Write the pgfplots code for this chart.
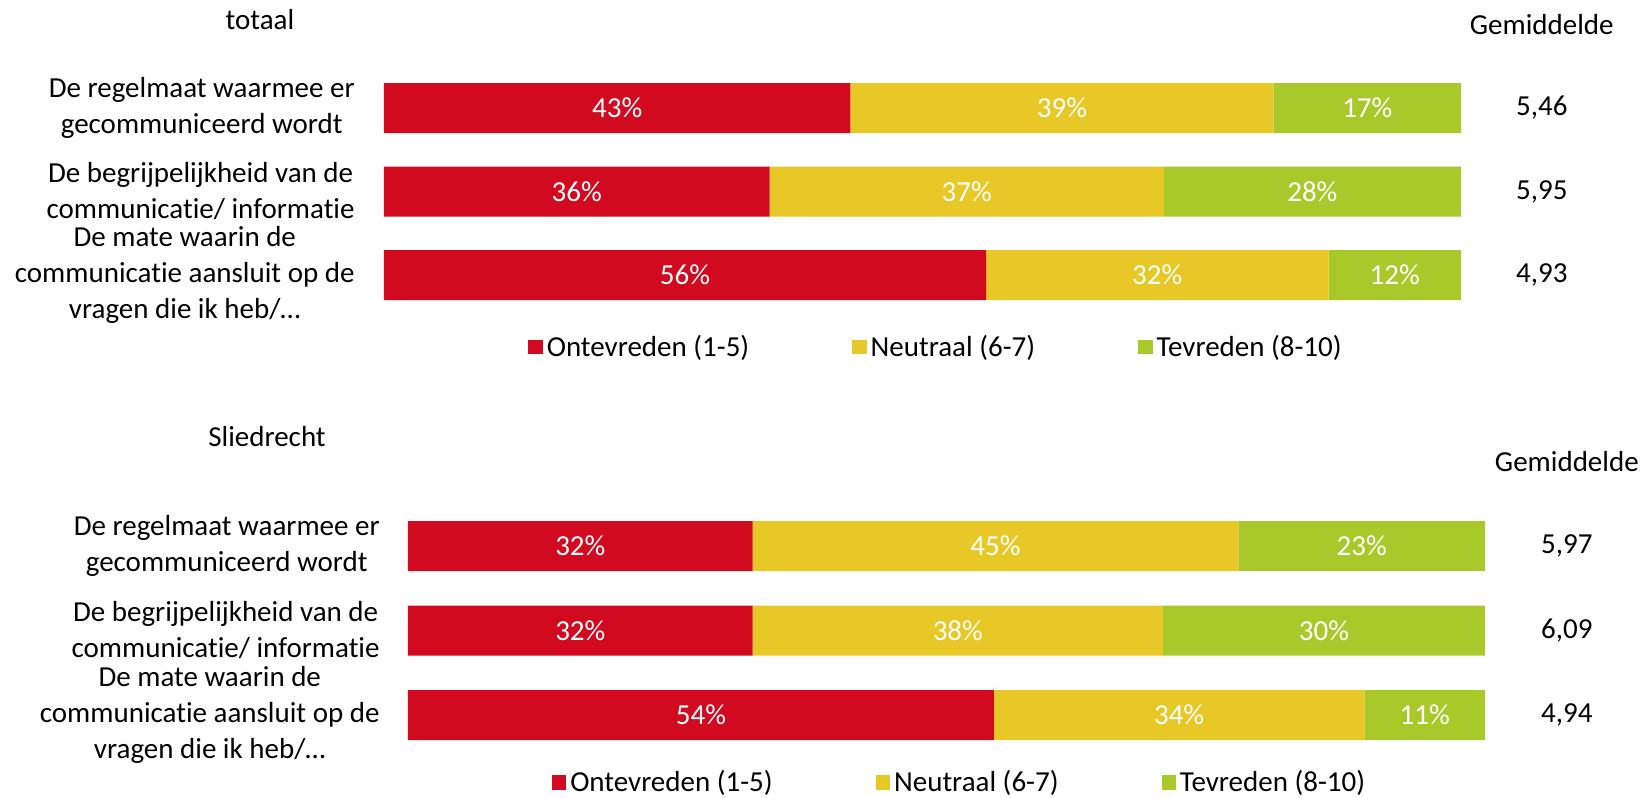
\documentclass[border=0pt]{standalone}
\usepackage{pgfplots}
\pgfplotsset{compat=1.18}
\usepackage{fontspec}
\setmainfont{Carlito}[Ligatures={NoCommon}]
\definecolor{cred}{HTML}{D10A1F}
\definecolor{cyel}{HTML}{E8C826}
\definecolor{cgrn}{HTML}{A9C92B}
\newcommand{\chartfont}{\fontsize{14.5}{18}\selectfont}
\pgfplotsset{
  barax/.style={
    scale only axis, anchor=north west,
    width=538.5pt,
    xmin=0, xmax=100, ymin=-0.5, ymax=2.5, y dir=reverse,
    xbar stacked, bar width=25pt,
    axis line style={draw=none}, tick style={draw=none}, major tick length=0pt,
    xtick=\empty, ytick={0,1,2},
    yticklabels={{De regelmaat waarmee er\\gecommuniceerd wordt},{De begrijpelijkheid van de\\communicatie/ informatie},{De mate waarin de\\communicatie aansluit op de\\vragen die ik heb/…}},
    yticklabel style={align=center, inner sep=0pt, font=\chartfont},
    legend columns=3,
    legend style={draw=none, fill=none, font=\chartfont, anchor=center,
      /tikz/every even column/.append style={column sep=49.5pt}},
    legend image code/.code={\fill[#1] (0pt,-3.6pt) rectangle (7.2pt,3.6pt);},
  },
  txtax/.style={scale only axis, anchor=north west, width=538.5pt,
    xmin=0, xmax=100, ymin=-0.5, ymax=2.5, y dir=reverse, hide axis, clip=false},
  pctlab/.style={draw=none, mark=none, point meta=explicit,
    nodes near coords={\pgfmathprintnumber[fixed,precision=0,assume math mode=true]{\pgfplotspointmeta}\%},
    every node near coord/.append style={anchor=center, text=white, font=\chartfont}},
  avglab/.style={draw=none, mark=none, point meta=explicit,
    nodes near coords={\pgfmathprintnumber[fixed,fixed zerofill,precision=2,use comma,assume math mode=true]{\pgfplotspointmeta}},
    every node near coord/.append style={anchor=center, text=black, font=\chartfont}},
}
\begin{document}
\begin{tikzpicture}
\path[use as bounding box] (0,0) rectangle (825pt,-399pt);
% ---------- totaal ----------
\begin{axis}[barax, at={(192pt,-33.125pt)}, height=125.25pt,
  yticklabel style={xshift=-14.5pt},
  legend style={at={(0.5135,-0.121)}}]
\addplot[fill=cred, draw=none] coordinates {(43.3,0) (35.8,1) (55.9,2)};
\addlegendentry{Ontevreden (1-5)}
\addplot[fill=cyel, draw=none] coordinates {(39.3,0) (36.6,1) (31.8,2)};
\addlegendentry{Neutraal (6-7)}
\addplot[fill=cgrn, draw=none] coordinates {(17.4,0) (27.6,1) (12.3,2)};
\addlegendentry{Tevreden (8-10)}
\end{axis}
\begin{axis}[txtax, at={(192pt,-33.125pt)}, height=125.25pt]
\addplot[pctlab] table[meta=v] {
x y v
21.65 0 43.3
62.95 0 39.3
91.3 0 17.4
17.9 1 35.8
54.1 1 36.6
86.2 1 27.6
27.95 2 55.9
71.8 2 31.8
93.85 2 12.3
};
\addplot[avglab] table[meta=v] {
x y v
107.5 0 5.46
107.5 1 5.95
107.5 2 4.93
};
\node[font=\chartfont, text=black] at (axis cs:107.5,-1) {Gemiddelde};
\end{axis}
\node[font=\chartfont] at (130pt,-10pt) {totaal};
% ---------- Sliedrecht ----------
\begin{axis}[barax, at={(204pt,-251.875pt)}, height=126.75pt,
  yticklabel style={xshift=-14pt},
  legend style={at={(0.513,-0.1)}}]
\addplot[fill=cred, draw=none] coordinates {(32.0,0) (32.0,1) (54.4,2)};
\addlegendentry{Ontevreden (1-5)}
\addplot[fill=cyel, draw=none] coordinates {(45.1,0) (38.1,1) (34.4,2)};
\addlegendentry{Neutraal (6-7)}
\addplot[fill=cgrn, draw=none] coordinates {(22.9,0) (29.9,1) (11.2,2)};
\addlegendentry{Tevreden (8-10)}
\end{axis}
\begin{axis}[txtax, at={(204pt,-251.875pt)}, height=126.75pt]
\addplot[pctlab] table[meta=v] {
x y v
16.0 0 32.0
54.55 0 45.1
88.55 0 22.9
16.0 1 32.0
51.05 1 38.1
85.05 1 29.9
27.2 2 54.4
71.6 2 34.4
94.4 2 11.2
};
\addplot[avglab] table[meta=v] {
x y v
107.6 0 5.97
107.6 1 6.09
107.6 2 4.94
};
\node[font=\chartfont, text=black] at (axis cs:107.6,-1) {Gemiddelde};
\end{axis}
\node[font=\chartfont] at (133.5pt,-218.5pt) {Sliedrecht};
\end{tikzpicture}
\end{document}
